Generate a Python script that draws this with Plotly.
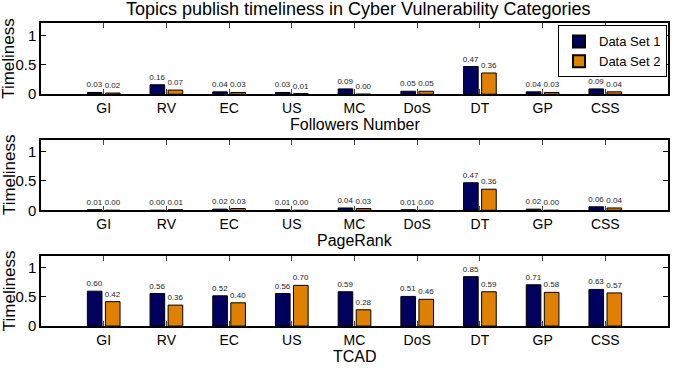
import plotly.graph_objects as go

categories = ["GI", "RV", "EC", "US", "MC", "DoS", "DT", "GP", "CSS"]
series_names = ["Data Set 1", "Data Set 2"]

followers_ds1 = [0.03, 0.16, 0.04, 0.03, 0.09, 0.05, 0.47, 0.04, 0.09]
followers_ds2 = [0.02, 0.07, 0.03, 0.01, 0.00, 0.05, 0.36, 0.03, 0.04]
pagerank_ds1 = [0.01, 0.00, 0.02, 0.01, 0.04, 0.01, 0.47, 0.02, 0.06]
pagerank_ds2 = [0.00, 0.01, 0.03, 0.00, 0.03, 0.00, 0.36, 0.00, 0.04]
tcad_ds1 = [0.60, 0.56, 0.52, 0.56, 0.59, 0.51, 0.85, 0.71, 0.63]
tcad_ds2 = [0.42, 0.36, 0.40, 0.70, 0.28, 0.46, 0.59, 0.58, 0.57]

panel_titles = ["Followers Number", "PageRank", "TCAD"]
y_ticks = [0, 0.5, 1]
y_ticktext = ["0", "0.5", "1"]
title_text = "Topics publish timeliness in Cyber Vulnerability Categories"

W, H = 674, 368
colors = ["#00005f", "#df8000"]
FONT = "Liberation Sans, Arial, sans-serif"

panels = [(followers_ds1, followers_ds2), (pagerank_ds1, pagerank_ds2), (tcad_ds1, tcad_ds2)]
# panel pixel extents (top, bottom)
pix = [(24, 96.3), (143, 215), (262, 333.3)]
xdom = [41 / W, 668 / W]
xpos = list(range(1, len(categories) + 1))

fig = go.Figure()
annotations = []
for i, (d1, d2) in enumerate(panels):
    suffix = "" if i == 0 else str(i + 1)
    for j, d in enumerate((d1, d2)):
        fig.add_trace(go.Bar(
            x=xpos, y=d, name=series_names[j],
            xaxis="x" + suffix, yaxis="y" + suffix,
            marker=dict(color=colors[j], line=dict(color="black", width=1)),
            texttemplate="%{y:.2f}", textposition="outside",
            constraintext="none", cliponaxis=False,
            textfont=dict(size=8, color="#222222", family=FONT),
            showlegend=(i == 0),
        ))
    top, bot = pix[i]
    ax = dict(
        domain=xdom, range=[0, 10], tickmode="array", tickvals=xpos,
        ticktext=categories, ticks="inside", ticklen=5, tickcolor="#444",
        showline=True, linecolor="black", linewidth=1.5, mirror="ticks",
        showgrid=False, zeroline=False, layer="above traces",
        tickfont=dict(size=14, color="black", family=FONT),
        anchor="y" + suffix,
    )
    ay = dict(
        domain=[1 - bot / H, 1 - top / H], range=[0, 1.2], tickmode="array",
        tickvals=y_ticks, ticktext=y_ticktext, ticks="inside", ticklen=5,
        tickcolor="black", showline=True, linecolor="black", linewidth=1.5,
        mirror="ticks", showgrid=False, zeroline=False, layer="above traces",
        tickfont=dict(size=15, color="black", family=FONT),
        anchor="x" + suffix,
    )
    fig.update_layout({"xaxis" + suffix: ax, "yaxis" + suffix: ay})
    annotations.append(dict(
        text=panel_titles[i], xref="paper", yref="paper",
        x=(xdom[0] + xdom[1]) / 2, y=1 - (bot + 31) / H,
        xanchor="center", yanchor="middle", showarrow=False,
        font=dict(size=16, color="black", family=FONT)))
    annotations.append(dict(
        text="Timeliness", xref="paper", yref="paper",
        x=9 / W, y=1 - (top + bot) / 2 / H, textangle=-90,
        xanchor="center", yanchor="middle", showarrow=False,
        font=dict(size=17, color="black", family=FONT)))

annotations.append(dict(
    text=title_text, xref="paper", yref="paper",
    x=358 / W, y=1 - 9 / H, xanchor="center", yanchor="middle",
    showarrow=False, font=dict(size=18, color="black", family=FONT)))

fig.update_layout(
    width=W, height=H, margin=dict(l=0, r=0, t=0, b=0),
    paper_bgcolor="white", plot_bgcolor="white",
    barmode="group", bargap=0.424, bargroupgap=0.19,
    annotations=annotations,
    legend=dict(x=667 / W, y=1 - 26 / H, xanchor="right", yanchor="top",
                bgcolor="white", bordercolor="black", borderwidth=1,
                font=dict(size=13, color="black", family=FONT),
                itemwidth=30, tracegroupgap=0, itemsizing="constant"),
    font=dict(family=FONT),
)

fig.write_html("out.html")
